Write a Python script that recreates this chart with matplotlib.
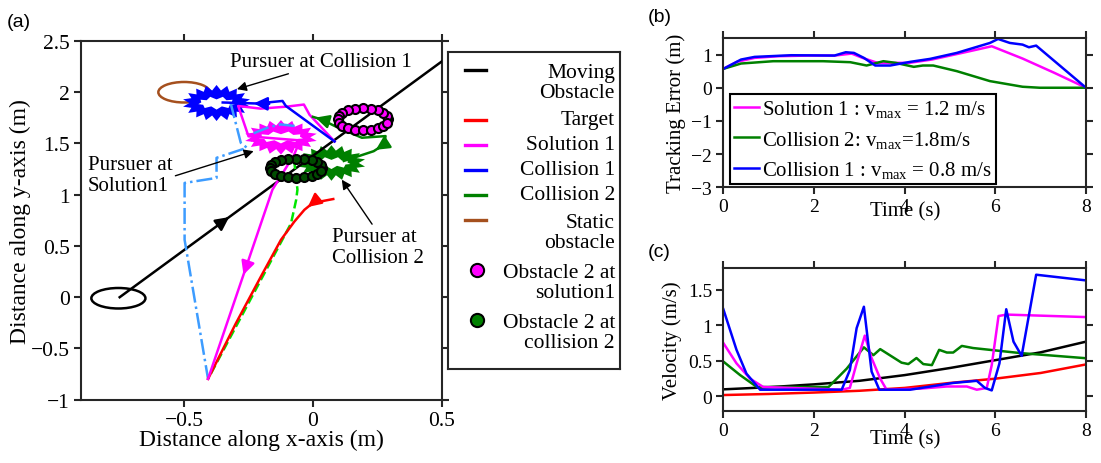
import numpy as np
import matplotlib
matplotlib.use('Agg')
import matplotlib.pyplot as plt
from matplotlib.patches import Ellipse, Polygon

plt.rcParams['font.family'] = 'Liberation Serif'
plt.rcParams['mathtext.fontset'] = 'custom'
plt.rcParams['mathtext.rm'] = 'Liberation Serif'
plt.rcParams['mathtext.it'] = 'Liberation Serif:italic'

# ---- panel (a): trajectories in the plane ----
moving_x = [-0.75, 0.5]
moving_y = [0.0, 2.3]
target_x = [0.079, 0.0, -0.033, -0.072, -0.124, -0.2, -0.3, -0.407]
target_y = [0.958, 0.92, 0.853, 0.738, 0.56, 0.21, -0.26, -0.797]
sol1_x = [0.084, -0.013, -0.035, -0.1, -0.203, -0.29, -0.25, -0.15, -0.05, -0.073, -0.157, -0.407]
sol1_y = [1.52, 1.78, 1.88, 1.86, 1.84, 1.866, 1.57, 1.55, 1.53, 1.39, 1.05, -0.797]
col1_x = [0.084, -0.105, -0.118, -0.216, -0.35]
col1_y = [1.52, 1.866, 1.915, 1.89, 1.90]
col2_x = [0.0, 0.033, 0.085, 0.19, 0.282, 0.276, 0.236, 0.177, 0.12]
col2_y = [1.76, 1.735, 1.67, 1.556, 1.572, 1.49, 1.425, 1.376, 1.33]
col2_end_x = [-0.073, -0.06, -0.065, -0.085, -0.407]
col2_end_y = [1.34, 1.05, 0.95, 0.72, -0.797]
sol1_pursuer_x = [-0.32, -0.28, -0.256, -0.374, -0.374, -0.498, -0.498, -0.407]
sol1_pursuer_y = [1.90, 1.507, 1.458, 1.36, 1.164, 1.115, 0.56, -0.797]
sol1_arc_x = [-0.23, -0.17, -0.124, -0.058]
sol1_arc_y = [1.60, 1.66, 1.686, 1.667]

moving_obs = (-0.755, -0.01, 0.21, 0.2)      # cx, cy, width, height
static_obs = (-0.5, 2.0, 0.2, 0.2)
gear_blue = (-0.374, 1.895)
gear_mag = (-0.124, 1.56)
gear_green = (0.072, 1.31)
ring_mag = (0.194, 1.735, 0.098, 0.108)
ring_black = (-0.065, 1.26, 0.102, 0.093)

# ---- panel (b): tracking error ----
err_sol1_t = [0, 0.3, 0.69, 1.2, 1.87, 2.46, 2.83, 3.07, 3.4, 4.1, 4.6, 5.2, 5.92, 6.6, 7.3, 8]
err_sol1_v = [0.57, 0.78, 0.9, 0.95, 0.97, 0.97, 1.03, 0.9, 0.75, 0.75, 0.85, 1.03, 1.25, 0.88, 0.45, 0.0]
err_col1_t = [0, 0.39, 0.69, 1.5, 2.45, 2.7, 2.88, 3.1, 3.35, 3.68, 4.12, 4.56, 5.15, 5.88, 6.06, 6.32, 6.6, 6.74, 6.9, 8]
err_col1_v = [0.57, 0.85, 0.93, 0.98, 0.97, 1.07, 1.05, 0.9, 0.67, 0.67, 0.78, 0.87, 1.05, 1.35, 1.47, 1.35, 1.3, 1.22, 1.27, 0.0]
err_col2_t = [0, 0.39, 1.1, 2.2, 2.8, 3.16, 3.53, 3.8, 4.2, 4.4, 4.63, 5.15, 5.88, 6.6, 6.98, 8]
err_col2_v = [0.57, 0.73, 0.8, 0.8, 0.77, 0.67, 0.8, 0.75, 0.63, 0.67, 0.67, 0.5, 0.2, 0.03, 0.0, 0.0]

# ---- panel (c): velocity ----
vel_col1_t = [0, 0.29, 0.51, 0.81, 2.61, 2.79, 2.94, 3.1, 3.27, 3.44, 4.12, 5.07, 5.59, 5.77, 5.92, 6.09, 6.24, 6.4, 6.58, 6.9, 8]
vel_col1_v = [1.225, 0.655, 0.32, 0.095, 0.095, 0.37, 0.96, 1.26, 0.35, 0.095, 0.095, 0.19, 0.22, 0.12, 0.085, 0.465, 1.225, 0.77, 0.57, 1.71, 1.63]
vel_sol1_t = [0, 0.29, 0.59, 0.88, 2.61, 2.79, 2.94, 3.12, 3.27, 3.46, 3.6, 4.34, 4.93, 5.37, 5.59, 5.81, 5.92, 6.07, 6.25, 8]
vel_sol1_v = [0.75, 0.465, 0.25, 0.133, 0.095, 0.12, 0.465, 0.855, 0.54, 0.25, 0.095, 0.11, 0.14, 0.14, 0.095, 0.12, 0.44, 1.13, 1.15, 1.115]
vel_col2_t = [0, 0.37, 0.74, 2.32, 2.72, 3.1, 3.31, 3.46, 3.93, 4.08, 4.26, 4.41, 4.6, 4.76, 4.93, 5.07, 5.26, 5.51, 6.54, 8]
vel_col2_v = [0.49, 0.3, 0.133, 0.133, 0.39, 0.69, 0.58, 0.665, 0.475, 0.455, 0.54, 0.455, 0.44, 0.655, 0.617, 0.617, 0.71, 0.68, 0.61, 0.537]
vel_obs_t = [0, 1, 2, 3, 4, 5, 6, 7, 8]
vel_obs_v = [0.1, 0.13, 0.17, 0.22, 0.3, 0.4, 0.51, 0.62, 0.77]
vel_tgt_t = [0, 1, 2, 3, 4, 5, 6, 7, 8]
vel_tgt_v = [0.02, 0.035, 0.055, 0.08, 0.12, 0.19, 0.25, 0.33, 0.45]

MAG = '#ff00ff'
BLUE = '#0000ff'
GREEN = '#008000'
LIME = '#00e600'
LBLUE = '#3d9cff'
BROWN = '#a5501e'
SPINE = '#262626'
LW = 1.8

fig = plt.figure(figsize=(11.01, 4.64), dpi=100)
ax = fig.add_axes([0.0736, 0.1364, 0.3276, 0.7731])
axb = fig.add_axes([0.657, 0.5942, 0.3294, 0.3218])
axc = fig.add_axes([0.657, 0.1127, 0.3294, 0.3069])

for a in (ax, axb, axc):
    for s in a.spines.values():
        s.set_color(SPINE)
        s.set_linewidth(1.5)
    a.tick_params(direction='out', length=5, width=1.5, color=SPINE,
                  top=True, right=True, labelsize=14, pad=3)
ax.tick_params(labelsize=15.5)

ax.set_xlim(-0.9, 0.5)
ax.set_ylim(-1, 2.5)
ax.set_xticks([-0.5, 0, 0.5])
ax.set_xticklabels(['\u22120.5', '0', '0.5'])
ax.set_yticks([-1, -0.5, 0, 0.5, 1, 1.5, 2, 2.5])
ax.set_yticklabels(['\u22121', '\u22120.5', '0', '0.5', '1', '1.5', '2', '2.5'])
ax.set_xlabel('Distance along x-axis (m)', fontsize=17, labelpad=-1)
ax.set_ylabel('Distance along y-axis (m)', fontsize=17, labelpad=0)

# data units per pixel (for gear teeth)
sx = 1.4 / (0.3276 * 1101)
sy = 3.5 / (0.7731 * 464)


def gear(cx, cy, rx, ry, hx, hy, color, nt=18, ni=9):
    th = np.linspace(0, 2 * np.pi, 2 * nt, endpoint=False)
    tooth = np.where(np.arange(2 * nt) % 2 == 0, 0.0, 5.0)
    px = cx + rx * np.cos(th) + tooth * np.cos(th) * sx
    py = cy + ry * np.sin(th) + tooth * np.sin(th) * sy
    ax.add_patch(Polygon(np.c_[px, py], closed=True, fc=color, ec=color, lw=2.5,
                         joinstyle='miter', zorder=2))
    th2 = np.linspace(0, 2 * np.pi, 2 * ni, endpoint=False) + np.pi / (2 * ni)
    tooth2 = np.where(np.arange(2 * ni) % 2 == 0, 0.0, 3.0)
    qx = cx + hx * np.cos(th2) + tooth2 * np.cos(th2) * sx
    qy = cy + hy * np.sin(th2) + tooth2 * np.sin(th2) * sy
    ax.add_patch(Polygon(np.c_[qx, qy], closed=True, fc='white', ec='none', zorder=2))


def ring(cx, cy, rx, ry, face, n=20):
    th = np.linspace(0, 2 * np.pi, n, endpoint=False)
    ax.add_patch(Ellipse((cx, cy), 2 * rx, 2 * ry, fill=False, ec='black', lw=2, zorder=4))
    ax.plot(cx + rx * np.cos(th), cy + ry * np.sin(th), 'o', ms=6.5, mfc=face,
            mec='black', mew=1.5, zorder=4)


def arrow_on(x, y, i, color, f=0.5, reverse=False):
    p0 = np.array([x[i], y[i]])
    p1 = np.array([x[i + 1], y[i + 1]])
    if reverse:
        p0, p1 = p1, p0
    d = (p1 - p0) / np.hypot(*(p1 - p0))
    head = p0 + f * (p1 - p0)
    tail = head - 0.06 * d
    ax.annotate('', xy=head, xytext=tail,
                arrowprops=dict(arrowstyle='-|>', color=color, lw=LW,
                                mutation_scale=20, shrinkA=0, shrinkB=0), zorder=6)


gear(*gear_blue, 0.092, 0.1, 0.06, 0.035, BLUE)
gear(*gear_mag, 0.1, 0.094, 0.075, 0.03, MAG)
gear(*gear_green, 0.092, 0.098, 0.063, 0.03, GREEN)

ax.add_patch(Ellipse(moving_obs[:2], moving_obs[2], moving_obs[3], fill=False, ec='black', lw=LW))
ax.add_patch(Ellipse(static_obs[:2], static_obs[2], static_obs[3], fill=False, ec=BROWN, lw=LW))

ax.plot(moving_x, moving_y, color='black', lw=LW, zorder=3)
ax.plot(sol1_pursuer_x, sol1_pursuer_y, color=LBLUE, lw=LW, ls='-.', zorder=3)
ax.plot(sol1_arc_x, sol1_arc_y, color=LBLUE, lw=LW, ls='-.', zorder=3)
ax.plot(col2_end_x, col2_end_y, color=LIME, lw=LW, ls='--', zorder=3)
ax.plot(target_x, target_y, color='red', lw=LW, zorder=3)
ax.plot(sol1_x, sol1_y, color=MAG, lw=LW, zorder=3)
ax.plot(col1_x, col1_y, color=BLUE, lw=LW, zorder=3)
ax.plot(col2_x, col2_y, color=GREEN, lw=LW, zorder=3)

ring(*ring_mag, MAG)
ring(*ring_black, '#004d00')

arrow_on(moving_x, moving_y, 0, 'black', f=0.34)
arrow_on(target_x, target_y, 1, 'red', f=0.6)
arrow_on(sol1_x, sol1_y, 10, MAG, f=0.45)
arrow_on(col1_x, col1_y, 3, BLUE, f=0.1)
arrow_on(col2_x, col2_y, 0, GREEN, f=0.7, reverse=True)
arrow_on(col2_x, col2_y, 5, GREEN, f=0.8)

ann = dict(arrowstyle='-|>', color='black', lw=1, mutation_scale=14, shrinkA=0, shrinkB=0)
ax.annotate('Pursuer at Collision 1', xy=(-0.295, 2.03), xytext=(-0.32, 2.30),
            fontsize=15, ha='left', va='center',
            arrowprops=dict(ann, relpos=(0.37, 0.0)))
ax.annotate('Pursuer at\nSolution1', xy=(-0.23, 1.425), xytext=(-0.873, 1.196),
            fontsize=15, ha='left', va='center', linespacing=1.15,
            arrowprops=dict(ann, relpos=(1.0, 0.45)))
ax.annotate('Pursuer at\nCollision 2', xy=(0.112, 1.147), xytext=(0.073, 0.49),
            fontsize=15, ha='left', va='center', linespacing=1.15,
            arrowprops=dict(ann, relpos=(0.46, 1.0)))

# legend for panel (a), drawn in its own box
legend_labels = ['Moving\nObstacle', 'Target', 'Solution 1', 'Collision 1', 'Collision 2',
                 'Static\nobstacle', 'Obstacle 2 at\nsolution1', 'Obstacle 2 at\ncollision 2']
legend_colors = ['black', 'red', MAG, BLUE, GREEN, BROWN, MAG, GREEN]
legend_kind = ['line', 'line', 'line', 'line', 'line', 'line', 'dot', 'dot']

lax = fig.add_axes([0.4069, 0.2026, 0.1562, 0.6832])
lax.set_xlim(0, 172)
lax.set_ylim(317, 0)
lax.set_xticks([])
lax.set_yticks([])
for s in lax.spines.values():
    s.set_color(SPINE)
    s.set_linewidth(1.5)
row = 18
for lab, c, kind in zip(legend_labels, legend_colors, legend_kind):
    nl = lab.count('\n') + 1
    if kind == 'line':
        lax.plot([17, 38], [row, row], color=c, lw=2.4)
    else:
        lax.plot([29], [row], 'o', ms=9.5, mfc=c, mec='black', mew=1.5)
    lax.text(167, row + (nl - 1) * 12.5, lab, ha='right', va='center', fontsize=15.5,
             linespacing=1.08, multialignment='right')
    row += 25 * nl

# ---- panel (b) ----
axb.plot(err_sol1_t, err_sol1_v, color=MAG, lw=LW, label=r'Solution 1 : v$_{\mathrm{max}}$ = 1.2 m/s')
axb.plot(err_col2_t, err_col2_v, color=GREEN, lw=LW, label=r'Collision 2: v$_{\mathrm{max}}$=1.8m/s')
axb.plot(err_col1_t, err_col1_v, color=BLUE, lw=LW, label=r'Collision 1 : v$_{\mathrm{max}}$ = 0.8 m/s')
axb.set_xlim(0, 8)
axb.set_ylim(-3, 1.5)
axb.set_xticks([0, 2, 4, 6, 8])
axb.set_yticks([-3, -2, -1, 0, 1])
axb.set_yticklabels(['\u22123', '\u22122', '\u22121', '0', '1'])
axb.set_xlabel('Time (s)', fontsize=15, labelpad=-10)
axb.set_ylabel('Tracking Error (m)', fontsize=15, labelpad=4)
leg = axb.legend(loc='lower left', bbox_to_anchor=(0.01, 0.0), fontsize=15, frameon=True,
                 fancybox=False, edgecolor='black', framealpha=1, borderpad=0.2,
                 handlelength=1.2, handletextpad=0.15, labelspacing=0.45, borderaxespad=0.15)
leg.get_frame().set_linewidth(1.5)

# ---- panel (c) ----
axc.plot(vel_obs_t, vel_obs_v, color='black', lw=LW)
axc.plot(vel_tgt_t, vel_tgt_v, color='red', lw=LW)
axc.plot(vel_col2_t, vel_col2_v, color=GREEN, lw=LW)
axc.plot(vel_sol1_t, vel_sol1_v, color=MAG, lw=LW)
axc.plot(vel_col1_t, vel_col1_v, color=BLUE, lw=LW)
axc.set_xlim(0, 8)
axc.set_ylim(-0.2, 1.8)
axc.set_xticks([0, 2, 4, 6, 8])
axc.set_yticks([0, 0.5, 1, 1.5])
axc.set_yticklabels(['0', '0.5', '1', '1.5'])
axc.set_xlabel('Time (s)', fontsize=15, labelpad=-7)
axc.set_ylabel('Velocity (m/s)', fontsize=15, labelpad=4)

fig.text(0.006, 0.952, '(a)', family='Liberation Sans', fontsize=14, va='center')
fig.text(0.588, 0.963, '(b)', family='Liberation Sans', fontsize=14, va='center')
fig.text(0.588, 0.455, '(c)', family='Liberation Sans', fontsize=14, va='center')

fig.savefig('out.png', dpi=100)
